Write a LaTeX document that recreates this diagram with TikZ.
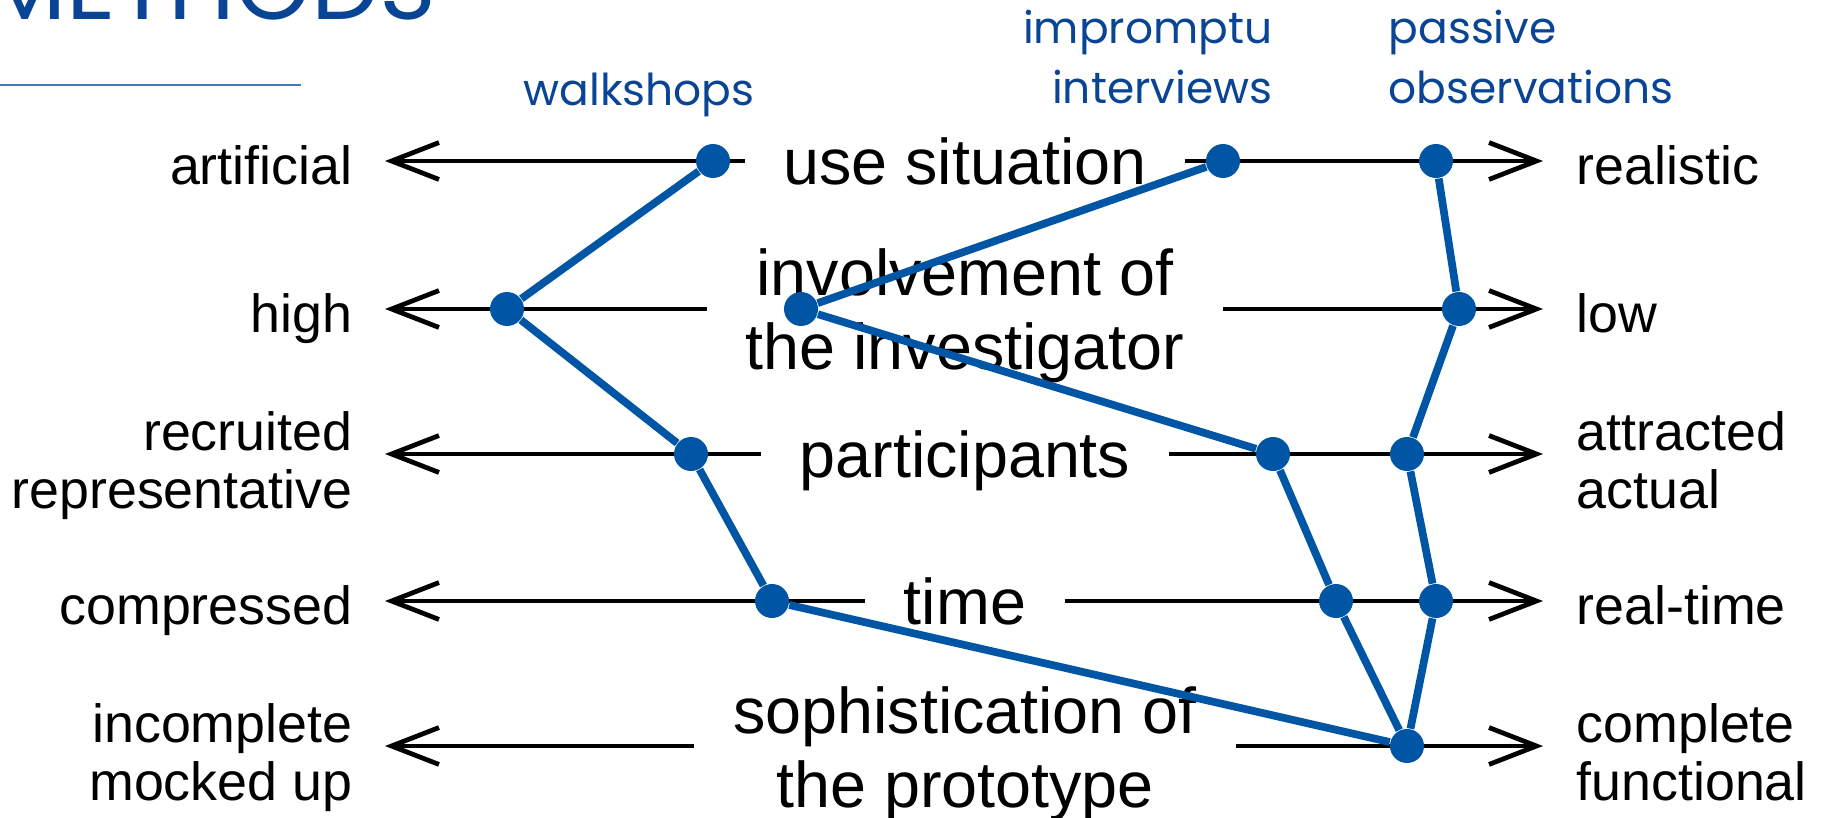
\documentclass[tikz,border=0pt]{standalone}
\usepackage{fontspec}
\setmainfont{Liberation Sans}
\newfontfamily\geofont{Poppins}
\usetikzlibrary{arrows.meta}
\definecolor{pathblue}{RGB}{0,86,164}
\definecolor{namblue}{RGB}{10,68,148}
\definecolor{ruleblue}{RGB}{72,120,178}

\begin{document}
\begin{tikzpicture}[x=0.02cm,y=-0.02cm,>={Straight Barb[length=27pt,width=21pt]},thick,
	axis/.style={line width=2.7pt,black},
	dimen/.style={font=\fontsize{36.8}{42}\selectfont,align=center,anchor=base,inner xsep=0.76cm,inner ysep=0pt},
	lend/.style={font=\fontsize{30.6}{33}\selectfont,align=right,anchor=base east,inner xsep=0.64cm,inner ysep=0pt},
	rend/.style={font=\fontsize{30.6}{33}\selectfont,align=left,anchor=base west,inner xsep=0.66cm,inner ysep=0pt},
	meth/.style={font=\geofont\fontsize{25}{34}\selectfont,text=namblue,inner sep=0pt},
	dot/.style={circle,fill=pathblue,inner sep=0pt,minimum size=0.68cm},
	trail/.style={line width=4.4pt,draw=pathblue,line join=round}]
	\useasboundingbox (0,0) rectangle (1826,818);

	% title and rule
	\node[font=\geofont\fontsize{55}{60}\selectfont,text=namblue,anchor=base east,inner sep=0pt] (title) at (437,19) {METHODS};
	\draw[ruleblue,line width=0.9pt] (0,85) -- (301,85);

	% methods
	\node[meth,anchor=base] (walk) at (639,105) {walkshops};
	\node[meth,anchor=base east,align=right] (impr) at (1273,103) {impromptu\\interviews};
	\node[meth,anchor=base west,align=left] (pass) at (1388,103) {passive\\observations};

	% arrow tips
	\coordinate (l1) at (385,161);	\coordinate (r1) at (1543,161);
	\coordinate (l2) at (385,309);	\coordinate (r2) at (1543,309);
	\coordinate (l3) at (385,454);	\coordinate (r3) at (1543,454);
	\coordinate (l4) at (385,601);	\coordinate (r4) at (1543,601);
	\coordinate (l5) at (385,746);	\coordinate (r5) at (1543,746);

	% dimensions
	\node[dimen] (use) at (965,184) {use situation};
	\node[dimen] (inv) at (965,369) {involvement of\\the investigator};
	\node[dimen] (part) at (965,477) {participants};
	\node[dimen] (time) at (965,624) {time};
	\node[dimen] (soph) at (965,807) {sophistication of\\the prototype};

	\node[lend] (artif) at (385,184) {artificial};
	\node[lend] (high) at (385,332) {high};
	\node[lend] (recr) at (385,508) {recruited\\representative};
	\node[lend] (compr) at (385,624) {compressed};
	\node[lend] (incompl) at (385,800) {incomplete\\mocked up};

	\node[rend] (real) at (1543,184) {realistic};
	\node[rend] (low) at (1543,332) {low};
	\node[rend] (attr) at (1543,508) {attracted\\actual};
	\node[rend] (rtime) at (1543,624) {real-time};
	\node[rend] (compl) at (1543,800) {complete\\functional};

	\foreach \d/\i in {use/1,inv/2,part/3,time/4,soph/5}{
		\draw[axis,->] (\d.west |- l\i) -- (l\i);
		\draw[axis,->] (\d.east |- r\i) -- (r\i);
	}

	% walkshops
	\node[dot] (w1) at (713,161) {};
	\node[dot] (w2) at (507,309) {};
	\node[dot] (w3) at (691,454) {};
	\node[dot] (w4) at (772,601) {};
	% impromptu interviews
	\node[dot] (i1) at (1223,161) {};
	\node[dot] (i2) at (801,309) {};
	\node[dot] (i3) at (1273,454) {};
	\node[dot] (i4) at (1336,601) {};
	% passive observations
	\node[dot] (p1) at (1436,161) {};
	\node[dot] (p2) at (1459,309) {};
	\node[dot] (p3) at (1407,454) {};
	\node[dot] (p4) at (1436,601) {};
	\node[dot] (end) at (1407,746) {};

	\draw[trail] (w1) -- (w2) -- (w3) -- (w4) -- (end);
	\draw[trail] (i1) -- (i2) -- (i3) -- (i4) -- (end);
	\draw[trail] (p1) -- (p2) -- (p3) -- (p4) -- (end);
\end{tikzpicture}
\end{document}
